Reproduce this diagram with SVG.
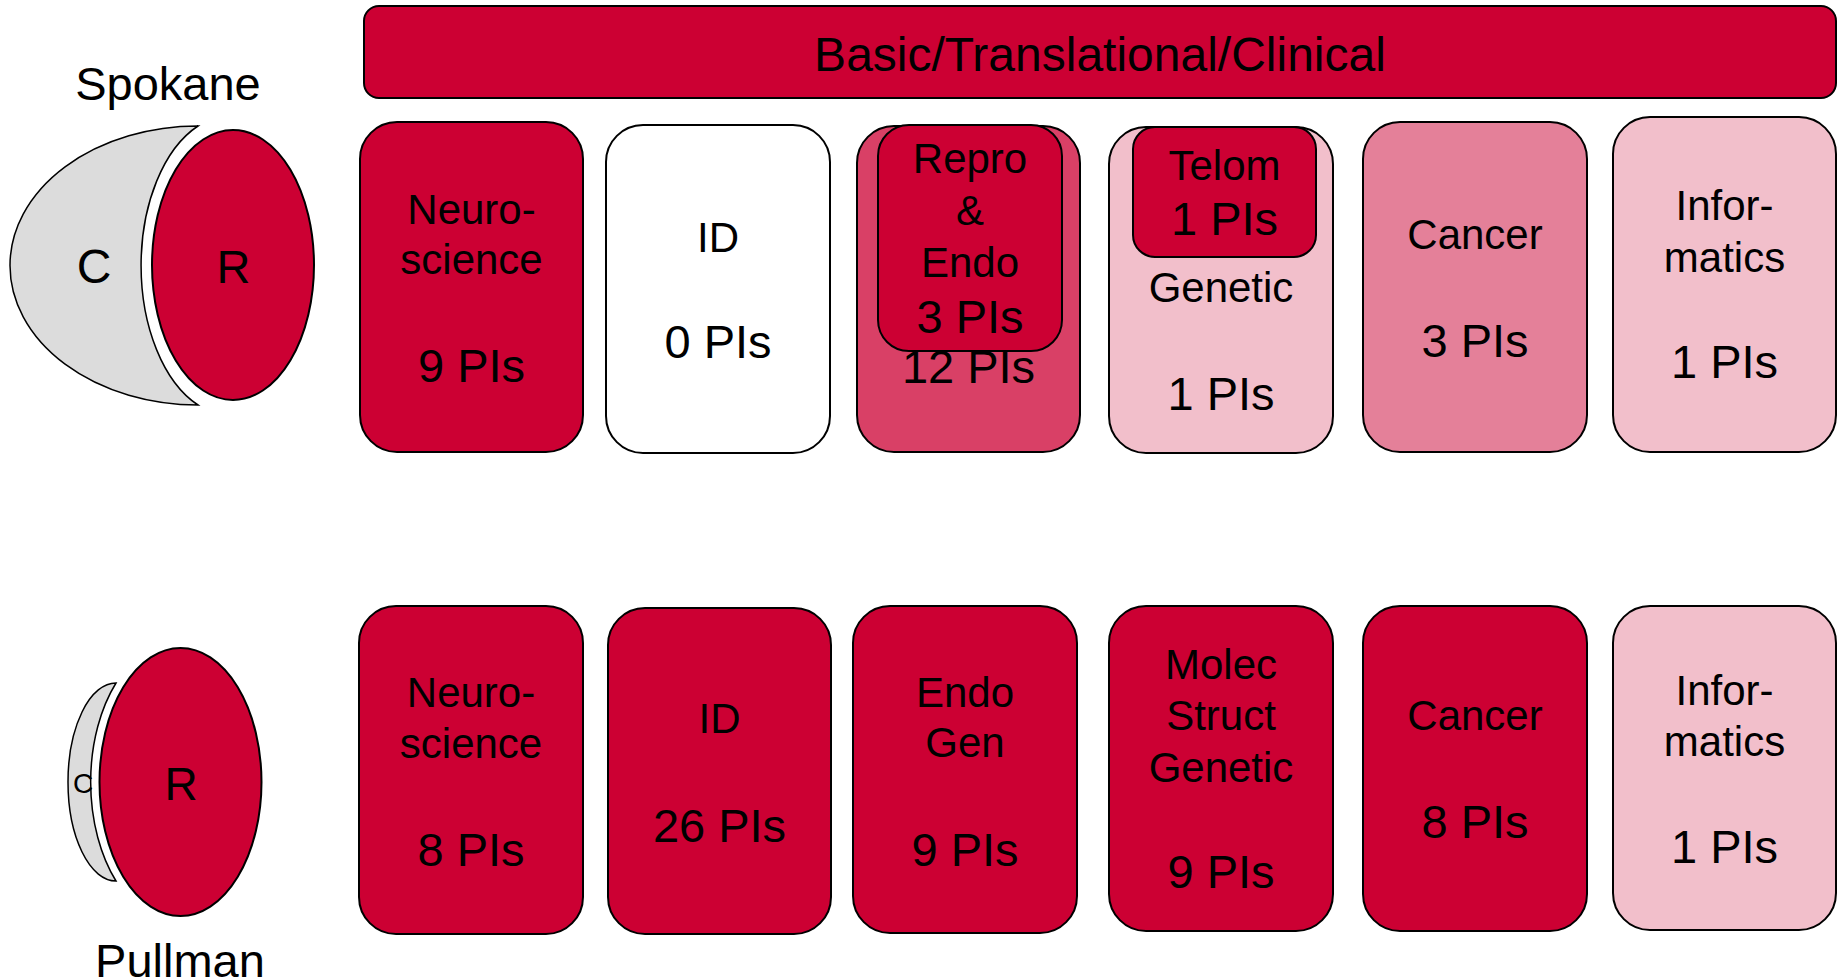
<svg xmlns="http://www.w3.org/2000/svg" width="1841" height="980" viewBox="0 0 1841 980">
<style>
text{font-family:"Liberation Sans",Arial,sans-serif;fill:#000;text-anchor:middle}
.lb{font-size:42px}
.pi{font-size:47px}
.bx{stroke:#000;stroke-width:2}
.c100{fill:#CC0033}
.c75{fill:#D94066}
.c50{fill:#E48099}
.c25{fill:#F2BFCB}
.wh{fill:#FFFFFF}
.moon{fill:#DCDCDC;stroke:#000;stroke-width:1.5}
</style>
<rect width="1841" height="980" fill="#FFFFFF"/>

<g id="banner">
<rect class="bx c100" x="364" y="6" width="1472" height="92" rx="15"/>
<text x="1100" y="71" style="font-size:48px">Basic/Translational/Clinical</text>
</g>

<g id="spokane">
<text x="168" y="100" style="font-size:47px">Spokane</text>
<path class="moon" d="M198 126 A90 150 0 0 0 198 405 A188 139.5 0 0 1 198 126 Z"/>
<ellipse class="bx c100" cx="233" cy="265" rx="81" ry="135"/>
<text x="94" y="283" style="font-size:48px">C</text>
<text x="233.5" y="283" style="font-size:47px">R</text>
</g>

<g id="pullman">
<path class="moon" d="M116 683 A88 141 0 0 0 116 881 A48 99 0 0 1 116 683 Z"/>
<ellipse class="bx c100" cx="180.5" cy="782" rx="81" ry="134"/>
<text x="83" y="793" style="font-size:28px">C</text>
<text x="181" y="800" style="font-size:46px">R</text>
<text x="180" y="977" style="font-size:47px">Pullman</text>
</g>

<g id="connectors"></g>

<g id="s-neuro">
<rect class="bx c100" x="360" y="122" width="223" height="330" rx="37"/>
<text x="471.5" y="224" class="lb">Neuro-</text>
<text x="471.5" y="274" class="lb">science</text>
<text x="471.5" y="382" class="pi">9 PIs</text>
</g>
<g id="s-id">
<rect class="bx wh" x="606" y="125" width="224" height="328" rx="37"/>
<text x="718" y="252" class="lb">ID</text>
<text x="718" y="358" class="pi">0 PIs</text>
</g>
<g id="s-repro">
<rect class="bx c75" x="857" y="126" width="223" height="326" rx="37"/>
<text x="968.5" y="383" class="pi">12 PIs</text>
</g>
<g id="s-repro-endo">
<rect class="bx c100" x="878" y="125" width="184" height="226" rx="31"/>
<text x="970" y="173" class="lb">Repro</text>
<text x="970" y="225" class="lb">&amp;</text>
<text x="970" y="277" class="lb">Endo</text>
<text x="970" y="333" class="pi">3 PIs</text>
</g>
<g id="s-genetic">
<rect class="bx c25" x="1109" y="127" width="224" height="326" rx="37"/>
<text x="1221" y="302" class="lb">Genetic</text>
<text x="1221" y="410" class="pi">1 PIs</text>
</g>
<g id="s-telom">
<rect class="bx c100" x="1133" y="127" width="183" height="130" rx="22"/>
<text x="1224.5" y="180" class="lb">Telom</text>
<text x="1224.5" y="235" class="pi">1 PIs</text>
</g>
<g id="s-cancer">
<rect class="bx c50" x="1363" y="122" width="224" height="330" rx="37"/>
<text x="1475" y="249" class="lb">Cancer</text>
<text x="1475" y="357" class="pi">3 PIs</text>
</g>
<g id="s-info">
<rect class="bx c25" x="1613" y="117" width="223" height="335" rx="37"/>
<text x="1724.5" y="220" class="lb">Infor-</text>
<text x="1724.5" y="272" class="lb">matics</text>
<text x="1724.5" y="378" class="pi">1 PIs</text>
</g>

<g id="p-neuro">
<rect class="bx c100" x="359" y="606" width="224" height="328" rx="37"/>
<text x="471" y="707" class="lb">Neuro-</text>
<text x="471" y="758" class="lb">science</text>
<text x="471" y="866" class="pi">8 PIs</text>
</g>
<g id="p-id">
<rect class="bx c100" x="608" y="608" width="223" height="326" rx="37"/>
<text x="719.5" y="733" class="lb">ID</text>
<text x="719.5" y="842" class="pi">26 PIs</text>
</g>
<g id="p-endo">
<rect class="bx c100" x="853" y="606" width="224" height="327" rx="37"/>
<text x="965" y="707" class="lb">Endo</text>
<text x="965" y="757" class="lb">Gen</text>
<text x="965" y="866" class="pi">9 PIs</text>
</g>
<g id="p-molec">
<rect class="bx c100" x="1109" y="606" width="224" height="325" rx="37"/>
<text x="1221" y="679" class="lb">Molec</text>
<text x="1221" y="730" class="lb">Struct</text>
<text x="1221" y="782" class="lb">Genetic</text>
<text x="1221" y="888" class="pi">9 PIs</text>
</g>
<g id="p-cancer">
<rect class="bx c100" x="1363" y="606" width="224" height="325" rx="37"/>
<text x="1475" y="730" class="lb">Cancer</text>
<text x="1475" y="838" class="pi">8 PIs</text>
</g>
<g id="p-info">
<rect class="bx c25" x="1613" y="606" width="223" height="324" rx="37"/>
<text x="1724.5" y="705" class="lb">Infor-</text>
<text x="1724.5" y="756" class="lb">matics</text>
<text x="1724.5" y="863" class="pi">1 PIs</text>
</g>
</svg>
